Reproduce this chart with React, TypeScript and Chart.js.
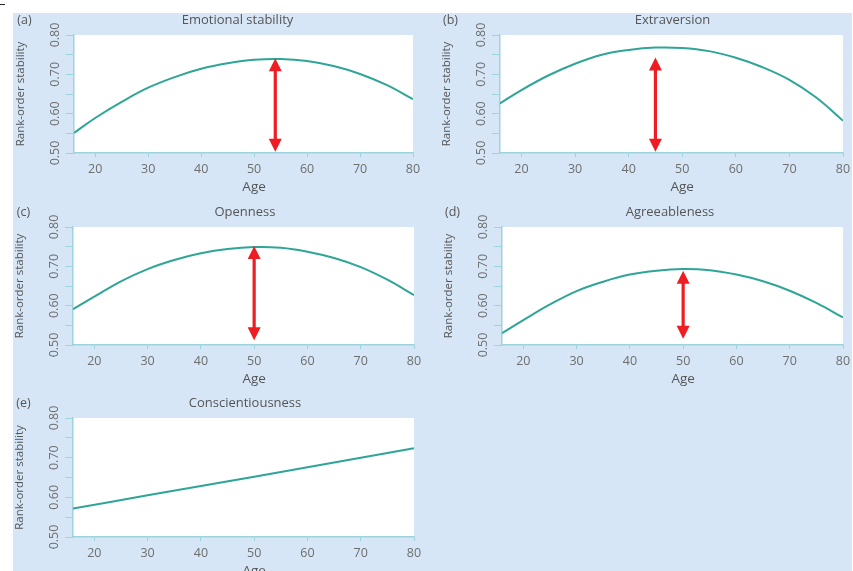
import { useEffect, useRef } from 'react';
import { Chart, registerables } from 'chart.js';

Chart.register(...registerables);

// ---------- data ----------
const ages = [16, 20, 25, 30, 35, 40, 45, 50, 55, 60, 65, 70, 75, 80];
const emotionalStability = [0.551, 0.589, 0.630, 0.666, 0.693, 0.714, 0.728, 0.737, 0.739, 0.734, 0.721, 0.701, 0.673, 0.637];
const extraversion = [0.626, 0.660, 0.697, 0.727, 0.750, 0.762, 0.768, 0.767, 0.759, 0.742, 0.718, 0.686, 0.641, 0.582];
const openness = [0.591, 0.623, 0.662, 0.693, 0.716, 0.733, 0.744, 0.749, 0.747, 0.737, 0.721, 0.698, 0.666, 0.627];
const agreeableness = [0.530, 0.563, 0.603, 0.637, 0.661, 0.679, 0.689, 0.693, 0.690, 0.679, 0.662, 0.638, 0.607, 0.570];
const conscientiousnessAges = [16, 30, 50, 70, 80];
const conscientiousness = [0.572, 0.605, 0.652, 0.700, 0.724];

const panelTitles = ['Emotional stability', 'Extraversion', 'Openness', 'Agreeableness', 'Conscientiousness'];
const panelLetters = ['(a)', '(b)', '(c)', '(d)', '(e)'];
const panelAges = [ages, ages, ages, ages, conscientiousnessAges];
const panelValues = [emotionalStability, extraversion, openness, agreeableness, conscientiousness];

const arrowAges = [54, 45, 50, 50, null];
const arrowTops = [0.741, 0.743, 0.752, 0.689, null];
const arrowBottoms = [0.503, 0.503, 0.512, 0.516, null];

const xTickValues = [20, 30, 40, 50, 60, 70, 80];
const yTickLabels = ['0.50', '0.60', '0.70', '0.80'];
const xMin = 16;
const xMax = 80;
const yMin = 0.5;
const yMax = 0.8;
const yStep = 0.05;
const xTitle = 'Age';
const yTitle = 'Rank-order stability';

// ---------- layout / style ----------
const W = 853;
const H = 571;
const layouts = [
  { l: 74, t: 35, r: 413, b: 153, titleX: 237.5 },
  { l: 500, t: 35, r: 843, b: 153, titleX: 672.5 },
  { l: 73, t: 227, r: 414, b: 345, titleX: 245 },
  { l: 502, t: 227, r: 843, b: 345, titleX: 670 },
  { l: 73, t: 418, r: 414, b: 537, titleX: 245 },
];
const FONT = "'Open Sans', 'DejaVu Sans', sans-serif";
const LINE_COLOR = '#2ea597';
const AXIS_COLOR = '#9dd3dd';
const ARROW_COLOR = '#ee1d23';
const TEXT_COLOR = '#555555';
const TICK_COLOR = '#6e6e6e';
const BG_COLOR = '#d6e6f6';
const Y_AXIS_W = 59.9;
const X_AXIS_H = 30;

const decorPlugin = {
  id: 'panelDecor',
  beforeDraw(chart: any) {
    const { ctx, chartArea: a } = chart;
    ctx.save();
    ctx.fillStyle = '#ffffff';
    ctx.fillRect(a.left, a.top, a.right - a.left, a.bottom - a.top);
    ctx.restore();
  },
  afterDatasetsDraw(chart: any, _args: any, opts: any) {
    const { ctx, chartArea: a, scales } = chart;
    const xs = scales.x;
    const ys = scales.y;
    ctx.save();
    ctx.fillStyle = TEXT_COLOR;
    ctx.textAlign = 'center';
    ctx.textBaseline = 'middle';
    ctx.font = `13px ${FONT}`;
    ctx.fillText(opts.title, opts.titleX, a.top - 14.5);
    ctx.font = `12.5px ${FONT}`;
    ctx.fillText(opts.letter, a.left - 49.5, a.top - 14.5);
    const ax = (xs.getPixelForValue(xTickValues[0]) + xs.getPixelForValue(xTickValues[xTickValues.length - 1])) / 2;
    ctx.font = `13.5px ${FONT}`;
    ctx.fillText(xTitle, ax, a.bottom + 34);
    if (opts.arrowX != null) {
      const x = xs.getPixelForValue(opts.arrowX);
      const yt = ys.getPixelForValue(opts.arrowTop);
      const yb = ys.getPixelForValue(opts.arrowBottom);
      const hh = 13;
      const hw = 6.5;
      ctx.strokeStyle = ARROW_COLOR;
      ctx.fillStyle = ARROW_COLOR;
      ctx.lineWidth = 3.2;
      ctx.beginPath();
      ctx.moveTo(x, yt + hh - 1);
      ctx.lineTo(x, yb - hh + 1);
      ctx.stroke();
      ctx.beginPath();
      ctx.moveTo(x, yt);
      ctx.lineTo(x - hw, yt + hh);
      ctx.lineTo(x + hw, yt + hh);
      ctx.closePath();
      ctx.fill();
      ctx.beginPath();
      ctx.moveTo(x, yb);
      ctx.lineTo(x - hw, yb - hh);
      ctx.lineTo(x + hw, yb - hh);
      ctx.closePath();
      ctx.fill();
    }
    ctx.restore();
  },
};

function makeChart(canvas: HTMLCanvasElement, i: number) {
  const L = layouts[i];
  const xs = panelAges[i];
  const vs = panelValues[i];
  return new Chart(canvas, {
    type: 'line',
    data: {
      datasets: [
        {
          data: xs.map((a, k) => ({ x: a, y: vs[k] })),
          borderColor: LINE_COLOR,
          borderWidth: 2,
          pointRadius: 0,
          fill: false,
          tension: 0.4,
        } as any,
      ],
    },
    options: {
      responsive: false,
      animation: false,
      events: [],
      layout: {
        padding: { left: L.l - Y_AXIS_W, top: L.t, right: W - L.r, bottom: H - L.b - X_AXIS_H },
      },
      plugins: {
        legend: { display: false },
        tooltip: { enabled: false },
        title: { display: false },
        panelDecor: {
          title: panelTitles[i],
          letter: panelLetters[i],
          titleX: L.titleX,
          arrowX: arrowAges[i],
          arrowTop: arrowTops[i],
          arrowBottom: arrowBottoms[i],
        },
      } as any,
      scales: {
        x: {
          type: 'linear',
          min: xMin,
          max: xMax,
          afterBuildTicks: (s: any) => {
            s.ticks = xTickValues.map((v) => ({ value: v }));
          },
          afterFit: (s: any) => {
            s.height = X_AXIS_H;
            s.paddingLeft = 0;
            s.paddingRight = 0;
            s.paddingTop = 0;
            s.paddingBottom = 0;
          },
          ticks: {
            autoSkip: false,
            maxRotation: 0,
            minRotation: 0,
            padding: 4.5,
            color: TICK_COLOR,
            font: { family: FONT, size: 12.5, lineHeight: 1.2 },
          },
          grid: { drawOnChartArea: false, drawTicks: true, tickLength: 4, color: AXIS_COLOR, lineWidth: 1 },
          border: { display: true, color: AXIS_COLOR, width: 1.5 },
        },
        y: {
          type: 'linear',
          min: yMin,
          max: yMax,
          afterFit: (s: any) => {
            s.width = Y_AXIS_W;
            s.paddingLeft = 0;
            s.paddingRight = 0;
            s.paddingTop = 0;
            s.paddingBottom = 0;
          },
          ticks: {
            stepSize: yStep,
            autoSkip: false,
            minRotation: 90,
            maxRotation: 90,
            crossAlign: 'center',
            padding: -2,
            color: TICK_COLOR,
            font: { family: FONT, size: 12.5, lineHeight: 1.2 },
            callback: (v: any) => {
              const s = Number(v).toFixed(2);
              return yTickLabels.includes(s) ? s : '';
            },
          },
          title: {
            display: true,
            text: yTitle,
            color: TEXT_COLOR,
            padding: 0,
            font: { family: FONT, size: 11.5, lineHeight: 1.2 },
          },
          grid: { drawOnChartArea: false, drawTicks: true, tickLength: 8, color: AXIS_COLOR, lineWidth: 1 },
          border: { display: true, color: AXIS_COLOR, width: 1.5 },
        },
      },
    } as any,
    plugins: [decorPlugin as any],
  });
}

export default function App() {
  const refs = useRef<(HTMLCanvasElement | null)[]>([]);
  useEffect(() => {
    const charts = refs.current.map((c, i) => (c ? makeChart(c, i) : null));
    return () => {
      charts.forEach((ch) => ch && ch.destroy());
    };
  }, []);
  return (
    <div style={{ position: 'absolute', left: 0, top: 0, width: W, height: H, background: '#ffffff', overflow: 'hidden' }}>
      <div style={{ position: 'absolute', left: 13, top: 13, width: 839, height: H - 13, background: BG_COLOR }} />
      <div style={{ position: 'absolute', left: 0, top: 4, width: 5, height: 1, background: '#222' }} />
      {panelTitles.map((_, i) => (
        <canvas
          key={i}
          ref={(el) => {
            refs.current[i] = el;
          }}
          width={W}
          height={H}
          style={{ position: 'absolute', left: 0, top: 0, width: W, height: H }}
        />
      ))}
    </div>
  );
}
